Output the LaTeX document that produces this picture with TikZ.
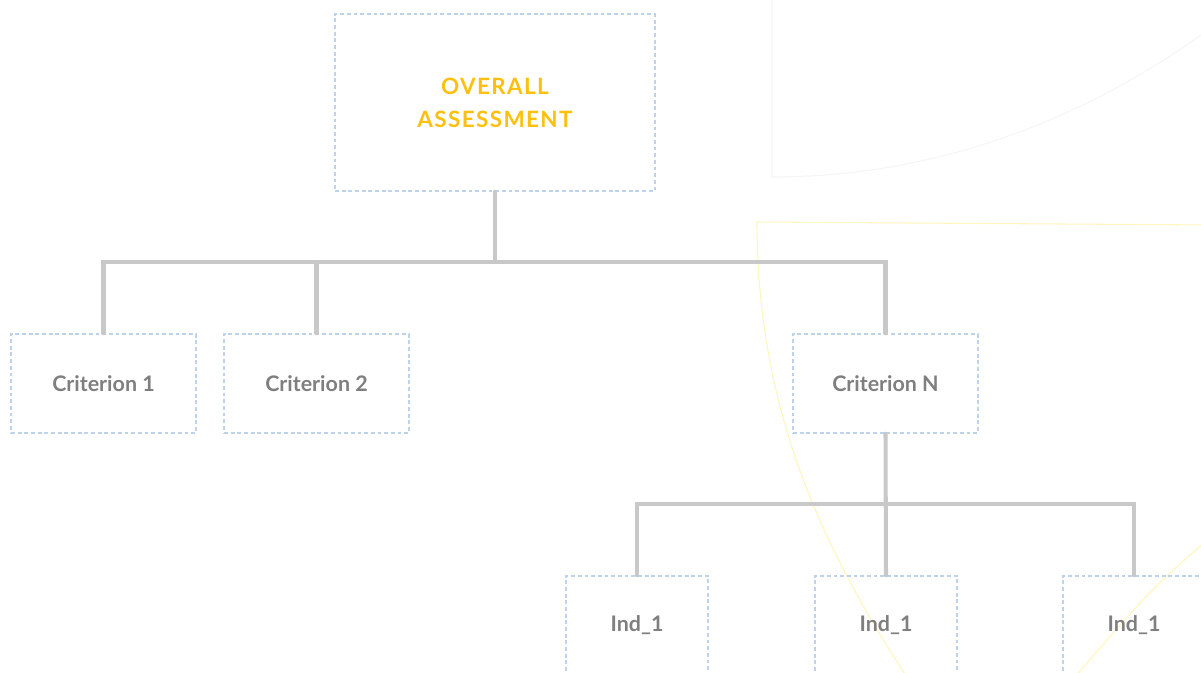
\documentclass[tikz,border=0pt]{standalone}
\usepackage{fontspec}
\setmainfont{Lato}
\definecolor{boxblue}{HTML}{BDD2EC}
\definecolor{linegrey}{HTML}{C8C8C8}
\definecolor{textgrey}{HTML}{7F7F7F}
\definecolor{titleyellow}{HTML}{FDC010}
\definecolor{arcyellow}{HTML}{FFF5BE}
\definecolor{arcgrey}{HTML}{F5F5F5}
\tikzset{
  dashbox/.style={draw=boxblue, line width=0.85pt, dash pattern=on 2.2pt off 1.6pt, inner sep=0pt},
  topbox/.style={dashbox, minimum width=6.4cm, minimum height=3.54cm, align=center, text=titleyellow,
    font=\fontsize{12.8}{18.7}\selectfont\bfseries\addfontfeature{LetterSpace=6}},
  critbox/.style={dashbox, minimum width=3.7cm, minimum height=1.98cm, text=textgrey,
    font=\fontsize{12.2}{14}\selectfont\bfseries},
  indbox/.style={critbox, minimum width=2.84cm},
  link/.style={draw=linegrey, line width=2.3pt, line cap=round},
  deco/.style={line width=0.6pt}
}
\begin{document}
\begin{tikzpicture}[x=0.02cm,y=-0.02cm]
  \useasboundingbox (0,0) rectangle (1201,673);
  \clip (0,0) rectangle (1201,673);

  \draw[deco, arcgrey] (772,-10) -- (772,177) .. controls (950,177) and (1100,110) .. (1215,25);
  \draw[deco, arcyellow] (1215,225) -- (757,222) .. controls (757,420) and (830,560) .. (912,685);
  \draw[deco, arcyellow] (1215,533) .. controls (1150,590) .. (1068,685);

  \node[topbox] (top) at (495,102.5) {OVERALL\\ASSESSMENT};
  \node[critbox] (c1) at (103.5,383.5) {Criterion 1};
  \node[critbox] (c2) at (316.5,383.5) {Criterion 2};
  \node[critbox] (cN) at (885.5,383.5) {Criterion N};
  \node[indbox] (i1) at (637,625.5) {Ind\_1};
  \node[indbox] (i2) at (886,625.5) {Ind\_1};
  \node[indbox] (i3) at (1134,625.5) {Ind\_1};

  \coordinate (bar) at (495,262);
  \coordinate (subbar) at (886,504);

  \draw[link] (top.south) -- (bar);
  \draw[link] (c1.north) -- (c1.north |- bar) -- (cN.north |- bar) -- (cN.north);
  \draw[link] (c2.north) -- (c2.north |- bar);
  \draw[link] (cN.south) -- (i2.north);
  \draw[link] (i1.north) -- (i1.north |- subbar) -- (i3.north |- subbar) -- (i3.north);
\end{tikzpicture}
\end{document}
